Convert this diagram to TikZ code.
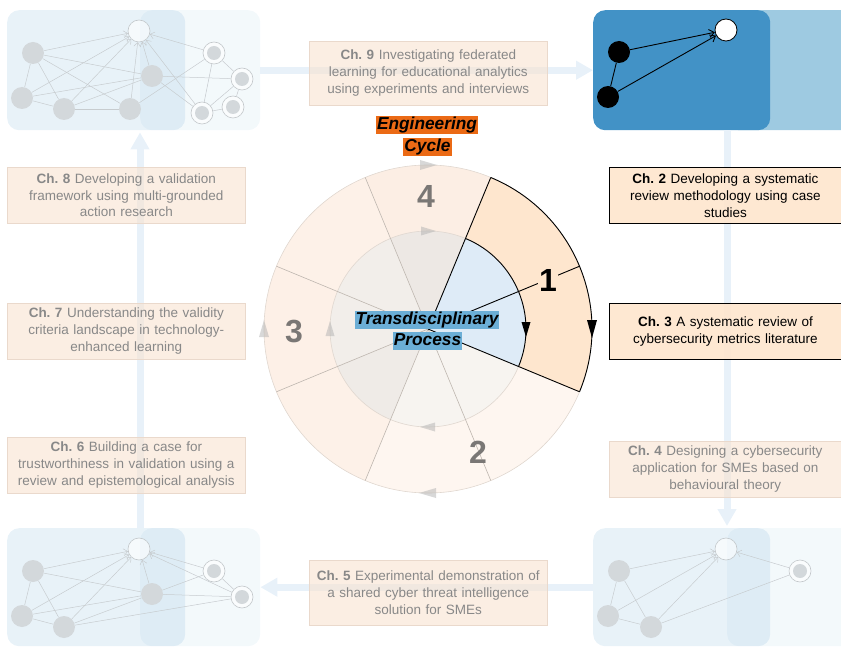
\documentclass[tikz,border=0pt]{standalone}
\usepackage{fontspec}
\setmainfont{Liberation Sans}
\usetikzlibrary{arrows.meta}
\definecolor{hlblue}{HTML}{4292C6}
\definecolor{hlblueB}{HTML}{9ECAE1}
\definecolor{flowc}{HTML}{E8F1F9}
\definecolor{orangeL}{HTML}{FEE6CE}
\definecolor{engor}{HTML}{EB6A15}
\definecolor{trblue}{HTML}{6BAED6}
\definecolor{innblue}{HTML}{DEEBF7}
\definecolor{gnode}{HTML}{D3D8DB}
\definecolor{gedge}{HTML}{C7CCCF}
\definecolor{gline2}{HTML}{C2C7CA}
\definecolor{fadetext}{HTML}{888888}
\definecolor{chfill}{HTML}{F8E2D0}
\definecolor{chdraw}{HTML}{EAD9CC}
\definecolor{ocA}{HTML}{FCEEE4}
\definecolor{ocB}{HTML}{FDF1E8}
\definecolor{ocC}{HTML}{FDF0E7}
\definecolor{ocD}{HTML}{FEF6F0}
\definecolor{icA}{HTML}{EDE8E4}
\definecolor{icB}{HTML}{F2EEEA}
\definecolor{icC}{HTML}{EFEBE7}
\definecolor{icD}{HTML}{F7F4F0}
\definecolor{radgray}{HTML}{BEB6AF}
\definecolor{ringgray}{HTML}{E0D7CF}
\definecolor{numgray}{HTML}{7A7775}
\newcommand\annsec[3]{\fill[#1] (#2:164) arc[start angle=#2,end angle=#3,radius=164] -- (#3:98) arc[start angle=#3,end angle=#2,radius=98] -- cycle;}
\newcommand\innsec[3]{\fill[#1] (0,0) -- (#2:98) arc[start angle=#2,end angle=#3,radius=98] -- cycle;}
\begin{document}
\frenchspacing
\begin{tikzpicture}[x=1pt,y=-1pt,
  panel/.style={rounded corners=12pt, draw=none, inner sep=0pt, anchor=north west},
  gn/.style={circle, fill=gnode, draw=none, minimum size=22pt, inner sep=0pt},
  wn/.style={circle, fill=white, fill opacity=0.6, draw=gline2, line width=0.6pt, minimum size=22pt, inner sep=0pt},
  dn/.style={circle, fill=white, fill opacity=0.6, draw=gline2, line width=0.6pt, minimum size=22pt, inner sep=0pt,
     path picture={\fill[gnode, fill opacity=1] (path picture bounding box.center) circle[radius=7pt];}},
  ge/.style={draw=gedge, line width=0.5pt},
  ga/.style={ge, -{Straight Barb[length=4pt,width=7pt]}},
  bn/.style={circle, fill=black, minimum size=22pt, inner sep=0pt},
  bw/.style={circle, fill=white, draw=black, line width=0.8pt, minimum size=22pt, inner sep=0pt},
  be/.style={draw=black, line width=0.9pt},
  ba/.style={be, -{Straight Barb[length=5pt,width=8pt]}},
  flow/.style={draw=flowc, line width=7pt, -{Triangle[length=17pt,width=18pt]}},
  chbox/.style={anchor=north west, align=center, inner xsep=2pt, inner ysep=2pt, font=\fontsize{13.5}{16.8}\selectfont\frenchspacing, minimum height=56pt, text width=234pt},
  chfade/.style={chbox, fill=chfill, fill opacity=0.6, draw=chdraw, line width=0.6pt, text=fadetext, text opacity=1},
  chhl/.style={chbox, text width=228pt, fill=orangeL, fill opacity=0.92, draw=black, line width=0.8pt, text=black, text opacity=1},
  hlab/.style={font=\fontsize{17.3}{20}\selectfont\bfseries\itshape, inner xsep=1pt, inner ysep=0pt, text height=13.5pt, text depth=4.5pt, text=black},
  numlab/.style={font=\fontsize{32}{32}\selectfont\bfseries, inner sep=1pt},
  radg/.style={draw=radgray, line width=0.6pt},
  radb/.style={draw=black, line width=0.9pt},
  trig/.style={fill=black!30, fill opacity=0.5},
  trib/.style={fill=black}
]
\useasboundingbox (0,0) rectangle (841,647);

% ---------- panels ----------
\node[panel, fill=hlblueB, fill opacity=0.12, minimum width=120pt, minimum height=120pt] (tlB) at (140,10) {};
\node[panel, fill=hlblue, fill opacity=0.12, minimum width=178pt, minimum height=120pt] (tlA) at (7,10) {};
\node[panel, fill=hlblueB, minimum width=130pt, minimum height=120pt] (trB) at (727,10) {};
\node[panel, fill=hlblue, minimum width=177pt, minimum height=120pt] (trA) at (593,10) {};
\node[panel, fill=hlblueB, fill opacity=0.12, minimum width=120pt, minimum height=118pt] (blB) at (140,528) {};
\node[panel, fill=hlblue, fill opacity=0.12, minimum width=178pt, minimum height=118pt] (blA) at (7,528) {};
\node[panel, fill=hlblueB, fill opacity=0.12, minimum width=130pt, minimum height=118pt] (brB) at (727,528) {};
\node[panel, fill=hlblue, fill opacity=0.12, minimum width=177pt, minimum height=118pt] (brA) at (593,528) {};

% ---------- flow arrows ----------
\draw[flow] (tlB.east) -- (trA.west);
\draw[flow, shorten >=2pt] (trA.south -| trB.west) -- (brA.north -| brB.west);
\draw[flow] (brA.west) -- (blB.east);
\draw[flow, shorten >=2pt] (blA.north -| blB.west) -- (tlA.south -| tlB.west);

% ---------- top-left graph ----------
\node[wn] (tlW) at (139,31) {};
\node[gn] (tla) at (33,53) {};
\node[gn] (tlb) at (22,98) {};
\node[gn] (tlc) at (64,109) {};
\node[gn] (tld) at (130,109) {};
\node[gn] (tle) at (152,76) {};
\node[dn] (tlf) at (214,53) {};
\node[dn] (tlg) at (242,79) {};
\node[dn] (tlh) at (202,113) {};
\node[dn] (tli) at (233,107) {};
\draw[ga] (tla) -- (tlW);
\draw[ga] (tlb) -- (tlW);
\draw[ga] (tlc) -- (tlW);
\draw[ga] (tld) -- (tlW);
\draw[ga] (tle) -- (tlW);
\draw[ga] (tlf) -- (tlW);
\draw[ga] (tlh) -- (tlW);
\draw[ge] (tla) -- (tlb);
\draw[ge] (tla) -- (tlc);
\draw[ge] (tla) -- (tle);
\draw[ge] (tla) -- (tld);
\draw[ge] (tlb) -- (tlc);
\draw[ge] (tlb) -- (tle);
\draw[ge] (tlc) -- (tld);
\draw[ge] (tlc) -- (tle);
\draw[ge] (tld) -- (tlf);
\draw[ge] (tle) -- (tlg);
\draw[ge] (tle) -- (tlh);
\draw[ge] (tlf) -- (tlh);
\draw[ge] (tlf) -- (tlg);
\draw[ge] (tlg) -- (tlh);
\draw[ge] (tlh) -- (tli);
\draw[ge] (tlg) -- (tli);

% ---------- top-right graph (highlighted) ----------
\node[bw] (trW) at (726,30) {};
\node[bn] (tra) at (619,52) {};
\node[bn] (trb) at (608,97) {};
\draw[ba] (tra) -- (trW);
\draw[ba] (trb) -- (trW);
\draw[be] (tra) -- (trb);

% ---------- bottom-left graph ----------
\node[wn] (blW) at (139,549) {};
\node[gn] (bla) at (33,571) {};
\node[gn] (blb) at (22,616) {};
\node[gn] (blc) at (64,627) {};
\node[gn] (ble) at (152,594) {};
\node[dn] (blf) at (214,571) {};
\node[dn] (blg) at (242,597) {};
\draw[ga] (bla) -- (blW);
\draw[ga] (blb) -- (blW);
\draw[ga] (blc) -- (blW);
\draw[ga] (ble) -- (blW);
\draw[ga] (blf) -- (blW);
\draw[ga] (blg) -- (blW);
\draw[ge] (bla) -- (blb);
\draw[ge] (bla) -- (blc);
\draw[ge] (bla) -- (ble);
\draw[ge] (blb) -- (blc);
\draw[ge] (blb) -- (ble);
\draw[ge] (blc) -- (ble);
\draw[ge] (blc) -- (blg);
\draw[ge] (ble) -- (blf);
\draw[ge] (ble) -- (blg);
\draw[ge] (blf) -- (blg);

% ---------- bottom-right graph ----------
\node[wn] (brW) at (726,549) {};
\node[gn] (bra) at (619,571) {};
\node[gn] (brb) at (608,616) {};
\node[gn] (brc) at (651,627) {};
\node[dn] (brf) at (800,571) {};
\draw[ga] (bra) -- (brW);
\draw[ga] (brb) -- (brW);
\draw[ga] (brc) -- (brW);
\draw[ga] (brf) -- (brW);
\draw[ge] (bra) -- (brb);
\draw[ge] (bra) -- (brc);
\draw[ge] (brb) -- (brc);
\draw[ge] (brc) -- (brf);

% ---------- central cycle ----------
\begin{scope}[shift={(428,329)}, y=1pt]
  \annsec{ocB}{112.5}{157.5}
  \annsec{ocC}{157.5}{202.5}
  \annsec{ocB}{202.5}{247.5}
  \annsec{ocD}{247.5}{337.5}
  \annsec{ocA}{67.5}{112.5}
  \annsec{orangeL}{-22.5}{67.5}
  \innsec{icA}{67.5}{112.5}
  \innsec{icB}{112.5}{202.5}
  \innsec{icC}{202.5}{247.5}
  \innsec{icD}{247.5}{337.5}
  \innsec{innblue}{-22.5}{67.5}
  \draw[draw=ringgray, line width=0.6pt] (0,0) circle[radius=164];
  \draw[draw=ringgray, line width=0.6pt] (0,0) circle[radius=98];
  \draw[radg] (0,0) -- (112.5:164);
  \draw[radg] (0,0) -- (157.5:164);
  \draw[radg] (0,0) -- (202.5:164);
  \draw[radg] (0,0) -- (247.5:164);
  \draw[radg] (0,0) -- (292.5:164);
  \draw[radb] (0,0) -- (67.5:164);
  \draw[radb] (0,0) -- (22.5:164);
  \draw[radb] (0,0) -- (-22.5:164);
  \draw[radb] (67.5:98) arc[start angle=67.5, end angle=-22.5, radius=98];
  \draw[radb] (67.5:164) arc[start angle=67.5, end angle=-22.5, radius=164];
  % direction triangles
  \fill[trig] (9,164) -- (-8,169) -- (-8,159) -- cycle;
  \fill[trig] (8,98) -- (-7,102.5) -- (-7,93.5) -- cycle;
  \fill[trig] (-164,9) -- (-169,-8) -- (-159,-8) -- cycle;
  \fill[trig] (-98,8) -- (-102.5,-7) -- (-93.5,-7) -- cycle;
  \fill[trig] (-9,-164) -- (8,-159) -- (8,-169) -- cycle;
  \fill[trig] (-8,-98) -- (7,-93.5) -- (7,-102.5) -- cycle;
  \fill[trib] (164,-9) -- (159,9) -- (169,9) -- cycle;
  \fill[trib] (98,-8) -- (93.5,7) -- (102.5,7) -- cycle;
\end{scope}

\node[numlab, fill=orangeL, text=black] (n1) at (548,280) {1};
\node[numlab, text=numgray] (n4) at (426,196) {4};
\node[numlab, text=numgray] (n3) at (294,332) {3};
\node[numlab, text=numgray] (n2) at (478,452) {2};

\node[hlab, fill=engor] (eng1) at (427,125.5) {Engineering};
\node[hlab, fill=engor] (eng2) at (427.5,147.5) {Cycle};
\node[hlab, fill=trblue] (tp1) at (427,319.5) {Transdisciplinary};
\node[hlab, fill=trblue] (tp2) at (427.5,341) {Process};

% ---------- chapter boxes ----------
\node[chfade, minimum height=64pt] (ch9) at (309,41) {{\bfseries Ch. 9} Investigating federated\\learning for educational analytics\\using experiments and interviews};
\node[chfade, minimum height=65pt] (ch5) at (309,560) {{\bfseries Ch. 5} Experimental demonstration of\\a shared cyber threat intelligence\\solution for SMEs};
\node[chfade] (ch8) at (7,167) {{\bfseries Ch. 8} Developing a validation\\framework using multi-grounded\\action research};
\node[chfade] (ch7) at (7,303) {{\bfseries Ch. 7} Understanding the validity\\criteria landscape in technology-\\enhanced learning};
\node[chfade] (ch6) at (7,437) {{\bfseries Ch. 6} Building a case for\\trustworthiness in validation using a\\review and epistemological analysis};
\node[chhl] (ch2) at (609,167) {{\bfseries Ch. 2} Developing a systematic\\review methodology using case\\studies};
\node[chhl] (ch3) at (609,303) {{\bfseries Ch. 3} A systematic review of\\cybersecurity metrics literature};
\node[chfade, text width=228pt] (ch4) at (609,441) {{\bfseries Ch. 4} Designing a cybersecurity\\application for SMEs based on\\behavioural theory};
\end{tikzpicture}
\end{document}
